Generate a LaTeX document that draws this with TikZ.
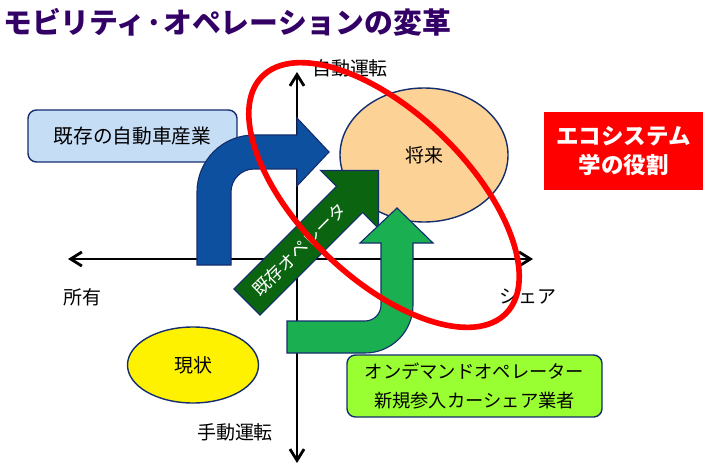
\documentclass[tikz,border=0pt]{standalone}
\usepackage{fontspec}
\setmainfont{Noto Sans CJK JP}
\usetikzlibrary{shapes.geometric,arrows.meta}

\definecolor{titlepurple}{RGB}{51,0,102}
\definecolor{navyline}{RGB}{20,45,110}
\definecolor{lightblue}{RGB}{198,221,246}
\definecolor{arrowblue}{RGB}{14,80,160}
\definecolor{darkgreen}{RGB}{10,100,16}
\definecolor{midgreen}{RGB}{26,175,80}
\definecolor{futureorange}{RGB}{252,210,150}
\definecolor{limegreen}{RGB}{153,255,51}

\tikzset{
  axisline/.style={line width=2pt,
    {Straight Barb[length=8pt,width=10pt]}-{Straight Barb[length=8pt,width=10pt]}},
  axislabel/.style={font=\fontsize{13.5pt}{16pt}\selectfont},
  roundbox/.style={draw=navyline, line width=1pt, rounded corners=6pt,
    align=center, inner sep=0pt, font=\fontsize{13pt}{20pt}\selectfont},
  blob/.style={ellipse, draw=navyline, line width=1pt, inner sep=0pt,
    font=\fontsize{13.5pt}{16pt}\selectfont},
  bigarrow/.style={draw=navyline, line width=0.8pt},
}

\begin{document}
\begin{tikzpicture}[x=0.025cm, y=-0.025cm]
    \useasboundingbox (0,0) rectangle (720,465);

    \node[anchor=west, inner sep=0pt, text=titlepurple,
      font=\fontsize{20.5pt}{24pt}\selectfont\bfseries] (title) at (3,22) {モビリティ·オペレーションの変革};

    % axes
    \coordinate (own) at (68,259);
    \coordinate (share) at (533,259);
    \coordinate (auto) at (297,72);
    \coordinate (manual) at (297,463);
    \draw[axisline] (own) -- (share);
    \draw[axisline] (manual) -- (auto);

    \node[roundbox, fill=lightblue, minimum width=209*0.025cm, minimum height=52*0.025cm,
      font=\fontsize{14pt}{16pt}\selectfont] (industry) at (132.5,136) {既存の自動車産業};

    \draw[bigarrow, fill=arrowblue] (197,265) -- (197,192) arc[start angle=180, end angle=270, radius=57]
      -- (297,135) -- (297,118) -- (329,152) -- (297,186) -- (297,169) -- (254,169)
      arc[start angle=270, end angle=180, radius=23] -- (231,265) -- cycle;

    \node[blob, fill=futureorange, minimum width=168*0.025cm, minimum height=134*0.025cm] (future) at (424,155) {将来};

    \begin{scope}[shift={(247,302)}, rotate=45]
        \draw[bigarrow, fill=darkgreen] (0,-18.5) -- (145,-18.5) -- (145,-41) -- (186,0)
          -- (145,41) -- (145,18.5) -- (0,18.5) -- cycle;
        \node[rotate=45, text=white, font=\fontsize{12.5pt}{15pt}\selectfont] (operator) at (74,0) {既存オペレータ};
    \end{scope}

    \draw[bigarrow, fill=midgreen] (287,321) -- (365,321) arc[start angle=90, end angle=0, radius=16]
      -- (381,243) -- (360,243) -- (397,208) -- (433,243) -- (413,243) -- (413,305)
      arc[start angle=0, end angle=90, radius=48] -- (287,353) -- cycle;

    \node[blob, fill=yellow, minimum width=131*0.025cm, minimum height=76*0.025cm] (now) at (193,365) {現状};

    \node[roundbox, fill=limegreen, minimum width=255*0.025cm, minimum height=62*0.025cm] (newcomers) at (474.5,386)
      {オンデマンドオペレーター\\新規参入カーシェア業者};

    \node[fill=red, text=white, align=center, inner sep=0pt, minimum width=159*0.025cm, minimum height=78*0.025cm,
      font=\fontsize{16pt}{21pt}\selectfont\bfseries] (ecosystem) at (623.5,151) {エコシステム\\学の役割};

    \node[axislabel] (lauto) at (350,68) {自動運転};
    \node[axislabel] (lmanual) at (235,432) {手動運転};
    \node[axislabel] (lown) at (82,297) {所有};
    \node[axislabel] (lshare) at (528,297) {シェア};

    % role of ecosystem
    \draw[red, line width=4pt, rotate around={-44:(384,195)}] (384,195) ellipse [x radius=170, y radius=83];
\end{tikzpicture}
\end{document}
